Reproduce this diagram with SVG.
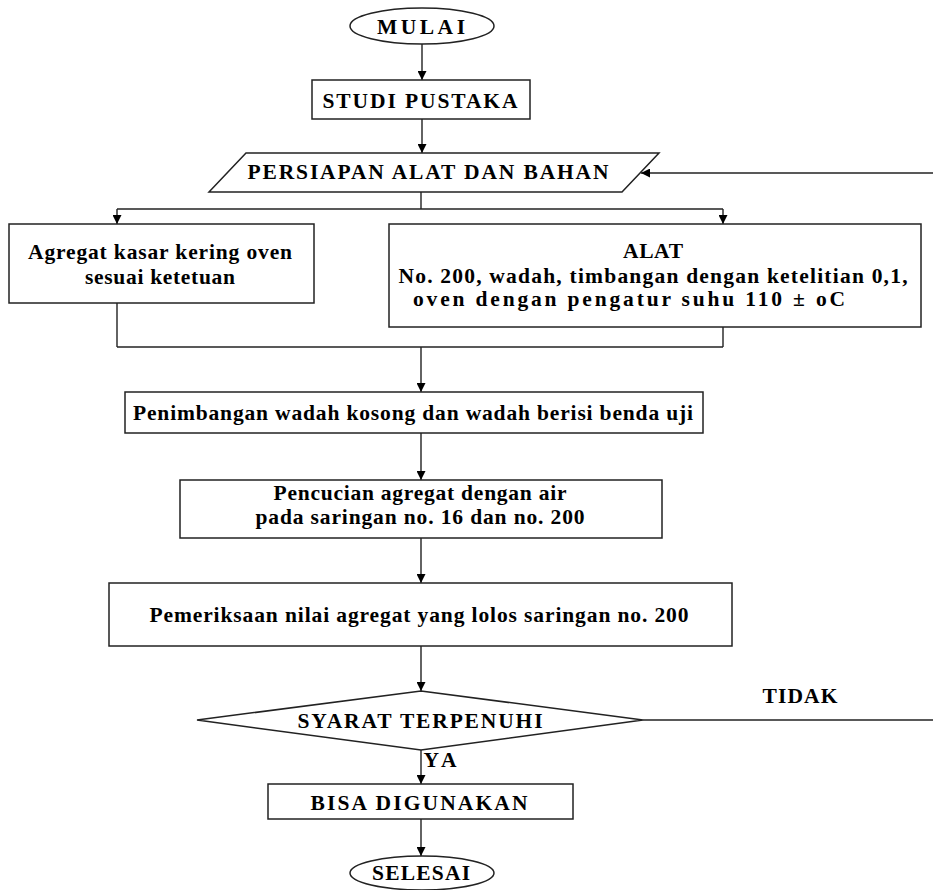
<svg xmlns="http://www.w3.org/2000/svg" width="933" height="890" viewBox="0 0 933 890">
<style>
.s{fill:#fff;stroke:#222;stroke-width:1.5}
.c{fill:none;stroke:#222;stroke-width:1.4}
.t{font-family:"Liberation Serif","Times New Roman",serif;font-weight:bold;font-size:21.5px;fill:#000;text-anchor:middle}
</style>
<defs>
<marker id="ah" viewBox="0 0 10 10" refX="10" refY="5" markerWidth="10" markerHeight="9" markerUnits="userSpaceOnUse" orient="auto">
<path d="M0,0 L10,5 L0,10 Z" fill="#000"/>
</marker>
</defs>
<rect width="933" height="890" fill="#fff"/>
<g id="connectors">
<line class="c" x1="422" y1="44" x2="422" y2="80" marker-end="url(#ah)"/>
<line class="c" x1="422" y1="119" x2="422" y2="153" marker-end="url(#ah)"/>
<line class="c" x1="421" y1="192" x2="421" y2="209"/>
<line class="c" x1="117" y1="209" x2="723" y2="209"/>
<line class="c" x1="117" y1="209" x2="117" y2="224" marker-end="url(#ah)"/>
<line class="c" x1="723" y1="209" x2="723" y2="224" marker-end="url(#ah)"/>
<line class="c" x1="117" y1="303" x2="117" y2="347"/>
<line class="c" x1="723" y1="327" x2="723" y2="347"/>
<line class="c" x1="117" y1="347" x2="723" y2="347"/>
<line class="c" x1="421" y1="347" x2="421" y2="392" marker-end="url(#ah)"/>
<line class="c" x1="421" y1="433" x2="421" y2="480" marker-end="url(#ah)"/>
<line class="c" x1="421" y1="538" x2="421" y2="583" marker-end="url(#ah)"/>
<line class="c" x1="421" y1="646" x2="421" y2="691" marker-end="url(#ah)"/>
<line class="c" x1="421" y1="750" x2="421" y2="784" marker-end="url(#ah)"/>
<line class="c" x1="421" y1="819" x2="421" y2="856" marker-end="url(#ah)"/>
<line class="c" x1="643" y1="720" x2="933" y2="720"/>
<line class="c" x1="933" y1="173" x2="641" y2="173" marker-end="url(#ah)"/>
<text class="t" x="440" y="767" text-anchor="start" textLength="33">YA</text>
<text class="t" x="800" y="703" textLength="75">TIDAK</text>
</g>
<g id="mulai">
<ellipse class="s" cx="422" cy="26" rx="72" ry="18"/>
<text class="t" x="421" y="34" textLength="88">MULAI</text>
</g>
<g id="studi">
<rect class="s" x="312" y="80" width="218" height="39"/>
<text class="t" x="420" y="108" textLength="195">STUDI PUSTAKA</text>
</g>
<g id="persiapan">
<polygon class="s" points="246,153 659,153 622,192 209,192"/>
<text class="t" x="428" y="179" textLength="361">PERSIAPAN ALAT DAN BAHAN</text>
</g>
<g id="agregat">
<rect class="s" x="9" y="224" width="305" height="79"/>
<text class="t" x="160" y="259" textLength="264">Agregat kasar kering oven</text>
<text class="t" x="160" y="284" textLength="150">sesuai ketetuan</text>
</g>
<g id="alat">
<rect class="s" x="389" y="224" width="532" height="103"/>
<text class="t" x="653" y="258" textLength="60">ALAT</text>
<text class="t" x="653" y="283" textLength="509">No. 200, wadah, timbangan dengan ketelitian 0,1,</text>
<text class="t" x="629" y="306" textLength="432">oven dengan pengatur suhu 110  ± oC</text>
</g>
<g id="penimbangan">
<rect class="s" x="125" y="392" width="578" height="41"/>
<text class="t" x="413" y="420" textLength="560">Penimbangan wadah kosong dan wadah berisi benda uji</text>
</g>
<g id="pencucian">
<rect class="s" x="180" y="480" width="482" height="58"/>
<text class="t" x="420" y="500" textLength="293">Pencucian agregat dengan air</text>
<text class="t" x="420" y="524" textLength="329">pada saringan no. 16 dan no. 200</text>
</g>
<g id="pemeriksaan">
<rect class="s" x="109" y="583" width="623" height="63"/>
<text class="t" x="419" y="622" textLength="539">Pemeriksaan nilai agregat yang lolos saringan no. 200</text>
</g>
<g id="syarat">
<polygon class="s" points="421,691 643,720 421,750 197,720"/>
<text class="t" x="420" y="728" textLength="245">SYARAT TERPENUHI</text>
</g>
<g id="bisa">
<rect class="s" x="268" y="784" width="305" height="35"/>
<text class="t" x="419" y="810" textLength="217">BISA DIGUNAKAN</text>
</g>
<g id="selesai">
<ellipse class="s" cx="422" cy="873" rx="72" ry="17"/>
<text class="t" x="421" y="880" textLength="98">SELESAI</text>
</g>
</svg>
